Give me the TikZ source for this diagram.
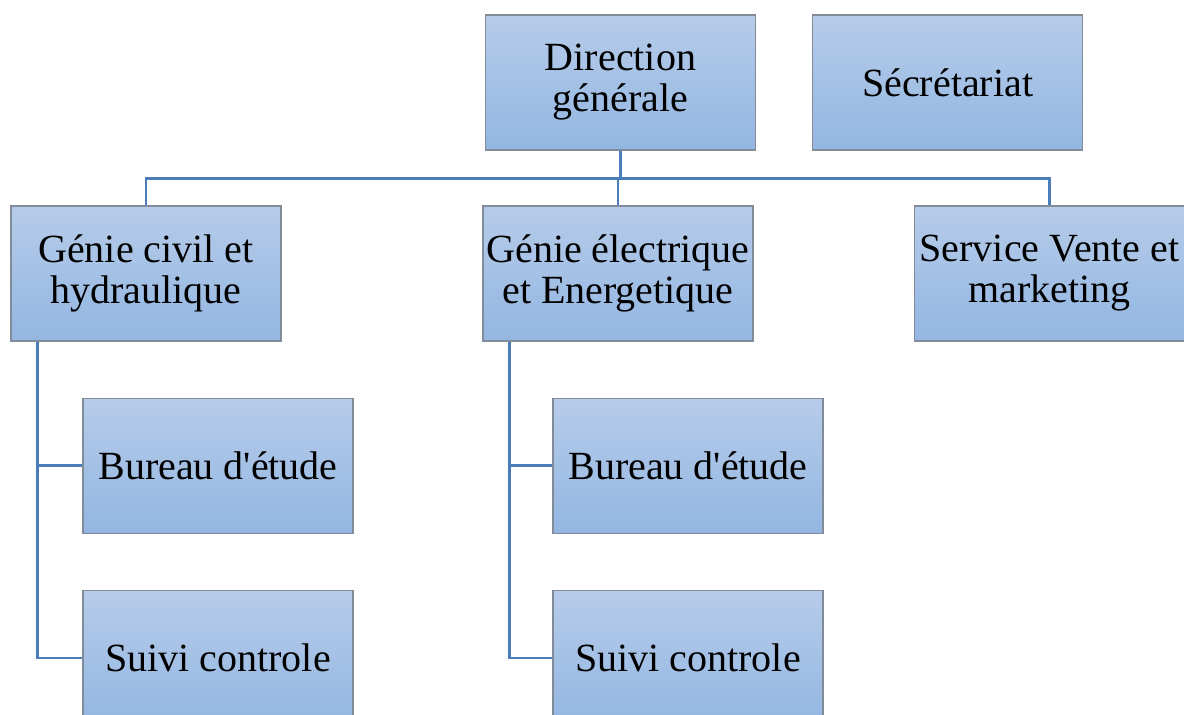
\documentclass[tikz,border=0pt]{standalone}
\usepackage{fontspec}
\setmainfont{Liberation Serif}
\usetikzlibrary{positioning}
\definecolor{boxtop}{RGB}{182,204,233}
\definecolor{boxbot}{RGB}{147,182,226}
\definecolor{boxline}{RGB}{130,140,152}
\definecolor{linkblue}{RGB}{74,126,187}
\begin{document}
\begin{tikzpicture}[node distance=28pt,
    unit/.style={rectangle, draw=boxline, line width=0.6pt, top color=boxtop, bottom color=boxbot,
                 minimum width=135pt, minimum height=67.5pt, inner sep=0pt, align=center,
                 font=\fontsize{20}{20.5}\selectfont},
    link/.style={draw=linkblue, line width=1.2pt}]
          \useasboundingbox (0,0) rectangle (592pt,-357.5pt);

          \node[unit] (dg)  at (310.25pt,-41.25pt) {Direction\\générale};
          \node[unit] (sec) [right=of dg]           {Sécrétariat};
          \node[unit] (gci) at (73pt,-136.75pt)     {Génie civil et\\hydraulique};
          \node[unit] (gel) at (309pt,-136.75pt)    {Génie électrique\\et Energetique};
          \node[unit] (srv) at (524.75pt,-136.75pt) {Service Vente et\\marketing};
          \node[unit] (bu1) [below=of gci, xshift=36pt] {Bureau d\textquotesingle étude};
          \node[unit] (su1) [below=of bu1]              {Suivi controle};
          \node[unit] (bu2) [below=of gel, xshift=35pt] {Bureau d\textquotesingle étude};
          \node[unit] (su2) [below=of bu2]              {Suivi controle};

          \coordinate (bus) at ([yshift=-14pt]dg.south);
          \coordinate (t1)  at ([xshift=13.5pt]gci.south west);
          \coordinate (t2)  at ([xshift=13.5pt]gel.south west);

          \draw[link] (dg.south) -- (bus);
          \draw[link] (bus) -| (gci.north);
          \draw[link] (bus) -| (srv.north);
          \draw[link] (bus) -| (gel.north);
          \draw[link] (t1) |- (bu1.west);
          \draw[link] (t1) |- (su1.west);
          \draw[link] (t2) |- (bu2.west);
          \draw[link] (t2) |- (su2.west);
\end{tikzpicture}
\end{document}
